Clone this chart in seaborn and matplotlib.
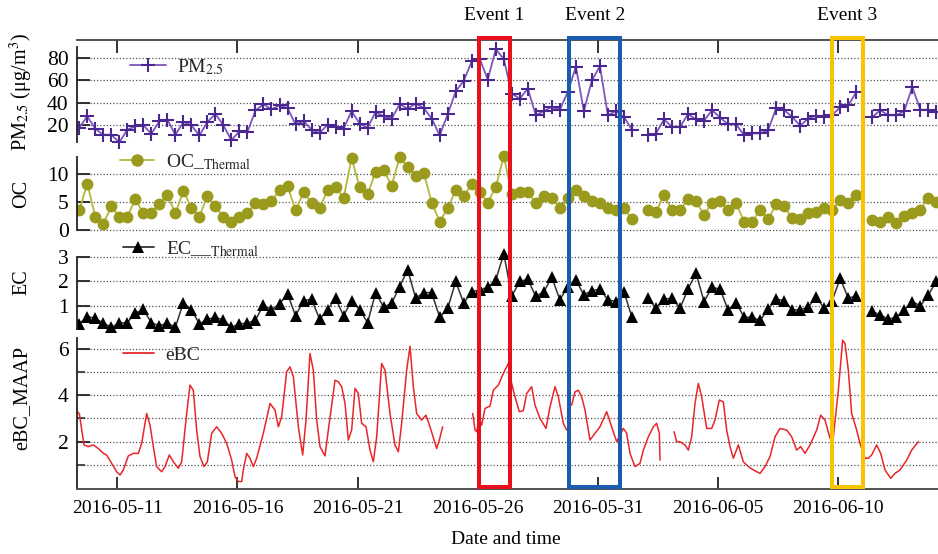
import numpy as np
import pandas as pd
import matplotlib
matplotlib.use("Agg")
import matplotlib.pyplot as plt
import seaborn as sns
import matplotlib.transforms as mtransforms
import matplotlib.dates as mdates
from matplotlib.patches import Rectangle
from matplotlib.lines import Line2D

sns.set_theme(style="white")
plt.rcParams["font.family"] = ["Liberation Serif", "DejaVu Serif"]
plt.rcParams["mathtext.fontset"] = "stix"

# ---------------- data ----------------
sample_start = "2016-05-09 10:00"   # 8-hourly filter samples
pm25 = [17.6, 27.8, 16.7, 11.3, 11.3, 4.5, 15.8, 18.8, 19.7, 12.2,
        23.3, 24.8, 11.3, 22.7, 19.7, 10.7, 22.7, 30.0, 19.7, 6.3,
        14.6, 13.7, 33.0, 38.5, 34.0, 37.6, 35.2, 20.6, 23.6, 15.8,
        12.8, 20.3, 18.2, 16.7, 32.5, 21.2, 17.6, 31.6, 27.8, 25.7,
        38.5, 34.6, 39.1, 35.2, 25.7, 10.7, 29.6, 50.1, 59.4, 77.0,
        79.0, 60.6, 87.5, 79.0, 48.0, 43.6, 52.5, 28.7, 32.5, 36.1,
        33.7, 49.6, 72.0, 32.5, 60.0, 72.5, 28.7, 32.5, 27.2, 15.8,
        np.nan, 11.1, 12.4, 25.0, 18.3, 18.3, 29.7, 25.0, 24.0, 33.2,
        26.7, 20.6, 20.7, 10.9, 12.6, 12.6, 15.3, 35.0, 33.3, 27.3,
        19.4, 25.8, 28.4, 27.6, 29.2, 35.7, 37.5, 49.4, np.nan, 27.1,
        33.2, 28.7, 28.7, 32.5, 54.0, 33.6, 33.6, 31.5]
oc = [3.5, 8.3, 2.4, 1.1, 4.2, 2.4, 2.4, 5.5, 3.0, 3.1,
      4.6, 6.25, 3.0, 7.0, 3.9, 2.4, 6.1, 4.2, 2.4, 1.5,
      2.4, 3.0, 4.8, 4.6, 5.2, 7.1, 7.9, 3.5, 6.7, 4.9,
      3.9, 7.1, 7.7, 5.7, 12.8, 7.7, 6.4, 10.4, 10.7, 7.9,
      13.0, 11.2, 9.6, 10.2, 4.9, 1.5, 3.9, 7.1, 6.1, 8.2,
      6.7, 4.9, 7.7, 13.2, 6.4, 6.7, 6.8, 4.8, 6.0, 5.8,
      3.9, 5.7, 7.1, 6.0, 5.1, 4.9, 3.9, 3.5, 3.9, 1.9,
      np.nan, 3.5, 3.2, 6.25, 3.6, 3.6, 5.5, 5.1, 2.7, 4.9,
      5.1, 3.6, 4.8, 1.5, 1.5, 3.5, 1.9, 4.6, 4.2, 2.1,
      1.9, 3.0, 3.3, 3.9, 3.6, 5.4, 4.9, 6.25, np.nan, 1.8,
      1.4, 2.4, 1.2, 2.5, 3.0, 3.6, 5.8, 5.0]
ec = [0.25, 0.55, 0.48, 0.28, 0.11, 0.28, 0.30, 0.69, 0.85, 0.30,
      0.17, 0.28, 0.11, 1.13, 0.83, 0.25, 0.44, 0.52, 0.41, 0.11,
      0.25, 0.28, 0.41, 1.03, 0.83, 1.07, 1.49, 0.58, 1.21, 1.27,
      0.44, 0.83, 1.31, 0.58, 1.21, 0.83, 0.30, 1.54, 0.94, 1.10,
      1.79, 2.48, 1.31, 1.54, 1.54, 0.52, 0.89, 2.00, 1.10, 1.58,
      1.65, 1.76, 2.06, 3.14, 1.40, 2.00, 2.09, 1.38, 1.58, 2.17,
      1.24, 1.79, 2.06, 1.44, 1.62, 1.68, 1.24, 1.17, 1.58, 0.52,
      np.nan, 1.31, 0.89, 1.27, 1.31, 0.89, 1.68, 2.34, 1.17, 1.76,
      1.68, 0.83, 1.13, 0.52, 0.52, 0.39, 0.85, 1.27, 1.21, 0.83,
      0.83, 0.94, 1.35, 0.89, 1.21, 2.13, 1.31, 1.40, np.nan, 0.76,
      0.62, 0.44, 0.52, 0.83, 1.17, 0.99, 1.44, 2.00]

# eBC (MAAP): time in days since 2016-05-09 00:00, value; NaN marks a data gap
ebc_day = [0.337, 0.42, 0.614, 0.794, 1.003, 1.21, 1.419, 1.558, 1.766, 1.974,
           2.112, 2.251, 2.459, 2.667, 2.875, 3.014, 3.222, 3.361, 3.499, 3.638,
           3.846, 3.985, 4.165, 4.332, 4.54, 4.679, 4.887, 5.025, 5.164, 5.303,
           5.442, 5.608, 5.747, 5.927, 6.135, 6.343, 6.551, 6.759, 6.898, 7.037,
           7.176, 7.245, 7.384, 7.522, 7.661, 7.8, 8.077, 8.355, 8.563, 8.702,
           8.84, 9.048, 9.187, 9.326, 9.534, 9.714, 9.853, 10.019, 10.158, 10.297,
           10.435, 10.643, 10.782, 11.06, 11.198, 11.337, 11.476, 11.614, 11.753, 11.892,
           12.03, 12.169, 12.35, 12.516, 12.655, 12.794, 13.002, 13.14, 13.348, 13.556,
           13.695, 13.834, 14.042, 14.181, 14.319, 14.458, 14.666, 14.846, 15.013, 15.29,
           15.401, 15.54, 16.2,
           16.789, 16.886, 16.955, 17.066, 17.163, 17.302, 17.51, 17.649, 17.857, 18.065,
           18.273, 18.411, 18.55, 18.73, 18.897, 19.036, 19.244, 19.382, 19.59, 19.84,
           20.007, 20.215, 20.353, 20.561, 20.7, 20.8,
           20.908, 21.047, 21.186, 21.324, 21.463, 21.671, 21.879, 22.087, 22.365, 22.573,
           22.781, 23.058, 23.197, 23.336, 23.544, 23.752, 23.891, 24.099, 24.307, 24.446,
           24.556, 24.584, 24.9,
           25.167, 25.278, 25.416, 25.625, 25.763, 25.902, 26.041, 26.18, 26.318, 26.526,
           26.734, 26.873, 27.053, 27.22, 27.359, 27.497, 27.636, 27.844, 28.052, 28.26,
           28.468, 28.746, 28.954, 29.162, 29.37, 29.578, 29.856, 30.064, 30.272, 30.438,
           30.618, 30.827, 31.104, 31.271, 31.451, 31.659, 31.798, 32.006, 32.186, 32.283,
           32.421, 32.56, 32.768, 32.907, 33.046, 33.115, 33.254, 33.392, 33.6, 33.767,
           33.947, 34.183, 34.364, 34.572, 34.849, 35.057, 35.334]
ebc_val = [3.29, 3.2, 1.86, 1.79, 1.86, 1.71, 1.5, 1.43, 1.07, 0.71,
           0.57, 0.79, 1.39, 1.5, 1.5, 1.93, 3.21, 2.71, 1.79, 0.93,
           0.71, 0.93, 1.43, 1.14, 0.86, 1.14, 3.21, 4.43, 4.21, 2.5,
           1.36, 0.93, 1.14, 2.36, 2.64, 2.36, 1.93, 1.21, 0.5, 0.29,
           0.29, 0.79, 1.5, 1.29, 0.93, 1.29, 2.36, 3.64, 3.36, 2.64,
           3.07, 5.0, 5.21, 4.79, 2.64, 1.43, 2.93, 5.79, 5.07, 2.93,
           1.79, 1.39, 2.5, 4.64, 4.57, 4.36, 3.64, 2.07, 2.5, 4.29,
           4.07, 2.79, 2.64, 1.64, 1.14, 2.21, 5.36, 5.07, 3.21, 1.86,
           1.57, 2.79, 5.07, 6.1, 4.36, 3.21, 2.93, 3.14, 2.64, 1.71,
           2.07, 2.64, np.nan,
           3.21, 2.5, 2.43, 3.0, 2.71, 3.43, 3.53, 4.21, 4.43, 4.93,
           5.36, 4.5, 3.93, 3.29, 3.33, 4.07, 4.36, 3.57, 3.0, 2.57,
           3.5, 4.36, 3.93, 2.79, 2.5, np.nan,
           3.57, 4.14, 4.21, 3.93, 3.36, 2.07, 2.36, 2.64, 3.29, 2.64,
           2.0, 2.57, 2.36, 1.5, 0.93, 1.07, 1.64, 2.21, 2.64, 2.79,
           2.36, 1.21, np.nan,
           2.43, 2.0, 2.0, 1.86, 1.64, 2.21, 3.64, 4.5, 3.93, 2.57,
           2.57, 2.93, 3.79, 3.71, 2.5, 1.79, 1.29, 1.86, 1.14, 0.93,
           0.79, 0.64, 0.93, 1.36, 2.21, 2.57, 2.5, 2.21, 1.64, 1.79,
           1.5, 1.86, 2.5, 3.14, 2.93, 2.14, 2.21, 4.21, 6.36, 6.21,
           5.07, 3.21, 2.5, 1.93, 1.5, 1.29, 1.29, 1.43, 1.86, 1.5,
           0.79, 0.43, 0.64, 0.79, 1.21, 1.64, 2.0]

date_ticks = ["2016-05-11", "2016-05-16", "2016-05-21", "2016-05-26",
              "2016-05-31", "2016-06-05", "2016-06-10"]
event_labels = ["Event 1", "Event 2", "Event 3"]
event_spans = [("2016-05-26 01:30", "2016-05-27 08:00"),
               ("2016-05-29 19:30", "2016-05-31 22:30"),
               ("2016-06-09 17:30", "2016-06-11 00:30")]
event_colors = ["#e8101c", "#1a5db0", "#f8c300"]

# ---------------- frames ----------------
times = pd.date_range(sample_start, periods=len(pm25), freq="8h")


def seg_frame(t, v):
    d = pd.DataFrame({"time": t, "val": v})
    d["seg"] = d["val"].isna().cumsum()
    return d.dropna()


df_pm = seg_frame(times, pm25)
df_oc = seg_frame(times, oc)
df_ec = seg_frame(times, ec)
ref0 = pd.Timestamp("2016-05-09")
df_bc = seg_frame(ref0 + pd.to_timedelta(ebc_day, unit="D"), ebc_val)

# ---------------- figure ----------------
W, H = 938, 554
fig = plt.figure(figsize=(W / 100, H / 100), dpi=100)


def add_ax(top, bottom):
    ax = fig.add_axes([77 / W, 1 - bottom / H, 861 / W, (bottom - top) / H])
    ax.patch.set_visible(False)
    return ax


ax_pm = add_ax(40, 150)
ax_oc = add_ax(150, 240)
ax_ec = add_ax(240, 335)
ax_bc = add_ax(335, 489)
axes = [ax_pm, ax_oc, ax_ec, ax_bc]

pm_line, pm_mk = "#7d55bd", "#4b2790"
oc_line, oc_mk = "#b4b83a", "#9a9a1c"

sns.lineplot(data=df_pm, x="time", y="val", units="seg", estimator=None, ax=ax_pm,
             color=pm_line, lw=1.3, marker="+", markersize=9.5, mew=1.5,
             markeredgecolor=pm_mk, legend=False)
sns.lineplot(data=df_oc, x="time", y="val", units="seg", estimator=None, ax=ax_oc,
             color=oc_line, lw=1.3, marker="o", markersize=8.5, mew=0,
             markerfacecolor=oc_mk, markeredgecolor=oc_mk, legend=False)
sns.lineplot(data=df_ec, x="time", y="val", units="seg", estimator=None, ax=ax_ec,
             color="#333333", lw=1.1, marker="^", markersize=8.5, mew=0,
             markerfacecolor="black", markeredgecolor="black", legend=False)
sns.lineplot(data=df_bc, x="time", y="val", units="seg", estimator=None, ax=ax_bc,
             color="#e8262a", lw=1.1, legend=False)

xlim = (ref0 + pd.Timedelta(days=0.323), ref0 + pd.Timedelta(days=36.153))
ylims = [(-2.3, 95.9), (-1.79, 14.29), (-0.21, 3.71), (-0.03, 6.58)]
yticks = [[20, 40, 60, 80], [0, 5, 10], [1, 2, 3], [2, 4, 6]]
spine_bounds = [(5, 90), (0, 13), (0.05, 3), (0, 6.45)]
ylabels = ["PM$_{2.5}$ (μg/m$^{3}$)", "OC", "EC", "eBC_MAAP"]
ylabel_y = [92.5, 194, 282.5, 397.5]
tick_pos = pd.to_datetime(date_ticks)

grid_kw = dict(linestyle=(0, (1, 1.6)), color="#555555", lw=0.9)
for ax, yl, yt, sb in zip(axes, ylims, yticks, spine_bounds):
    ax.set_xlim(*xlim)
    ax.set_ylim(*yl)
    ax.set_yticks(yt)
    ax.set_yticklabels([str(v) for v in yt])
    ax.set_xticks(tick_pos)
    ax.set_xlabel("")
    ax.set_ylabel("")
    for s in ["top", "bottom", "right"]:
        ax.spines[s].set_visible(False)
    ax.spines["left"].set_bounds(*sb)
    ax.spines["left"].set_color("#222222")
    ax.spines["left"].set_linewidth(1.3)
    ax.tick_params(axis="y", which="major", left=True, direction="in", length=9,
                   width=1.3, colors="#222222", labelsize=15.5, pad=6,
                   labelcolor="black")
    ax.tick_params(axis="x", bottom=False, top=False, labelbottom=False, labeltop=False)
    ax.yaxis.grid(True, which="both", **grid_kw)
    ax.xaxis.grid(False)

ax_bc.set_yticks([1, 3, 5], minor=True)
ax_bc.tick_params(axis="y", which="minor", left=True, direction="in", length=6,
                  width=1.1, colors="#222222")

# top axis ticks
ax_pm.spines["top"].set_visible(True)
ax_pm.spines["top"].set_color("#444444")
ax_pm.spines["top"].set_linewidth(1.3)
ax_pm.tick_params(axis="x", top=True, direction="in", length=9, width=1.3,
                  colors="#222222")
# bottom axis
ax_bc.spines["bottom"].set_visible(True)
ax_bc.spines["bottom"].set_color("#444444")
ax_bc.spines["bottom"].set_linewidth(1.3)
ax_bc.tick_params(axis="x", bottom=True, labelbottom=True, direction="in", length=9,
                  width=1.3, colors="#222222", labelsize=14, pad=8,
                  labelcolor="black")
ax_bc.set_xticklabels(date_ticks)

# y labels and x label
for lab, yc in zip(ylabels, ylabel_y):
    fig.text(21.5 / W, 1 - yc / H, lab, rotation=90, ha="center", va="center",
             fontsize=14.5, color="black")
fig.text(506 / W, 1 - 540 / H, "Date and time", ha="center", va="center",
         fontsize=14, color="black")

# legends
leg_specs = [
    (ax_pm, Line2D([], [], color=pm_line, lw=1.3, marker="+", markersize=10, mew=1.5,
                   markeredgecolor=pm_mk), "PM$_{2.5}$", (0.0616, 0.757), 1.85, 0.55),
    (ax_oc, Line2D([], [], color=oc_line, lw=1.3, marker="o", markersize=9, mew=0,
                   markerfacecolor=oc_mk), "OC_$_{\\rm Thermal}$", (0.050, 0.867), 1.75, 0.6),
    (ax_ec, Line2D([], [], color="#333333", lw=1.3, marker="^", markersize=9, mew=0,
                   markerfacecolor="black"), "EC__$_{\\rm Thermal}$", (0.053, 0.905), 1.6, 0.65),
    (ax_bc, Line2D([], [], color="#e8262a", lw=1.3), "eBC", (0.053, 0.87), 1.6, 0.6),
]
for ax, h, lab, anchor, hl, htp in leg_specs:
    ax.legend([h], [lab], loc="center left", bbox_to_anchor=anchor, frameon=False,
              borderpad=0, borderaxespad=0, handlelength=hl, handletextpad=htp,
              fontsize=14)

# event boxes spanning all panels
trans = mtransforms.blended_transform_factory(ax_bc.transData, fig.transFigure)
y0, y1 = 1 - 487 / H, 1 - 38 / H
for (a, b), c, lab in zip(event_spans, event_colors, event_labels):
    xa = mdates.date2num(pd.Timestamp(a))
    xb = mdates.date2num(pd.Timestamp(b))
    rect = Rectangle((xa, y0), xb - xa, y1 - y0, transform=trans, fill=False,
                     edgecolor=c, lw=2.9, clip_on=False, zorder=10)
    fig.add_artist(rect)
    fig.text((xa + xb) / 2, 1 - 16 / H, lab, transform=trans, ha="center",
             va="center", fontsize=14, color="black")

fig.savefig("out.png", dpi=100)
